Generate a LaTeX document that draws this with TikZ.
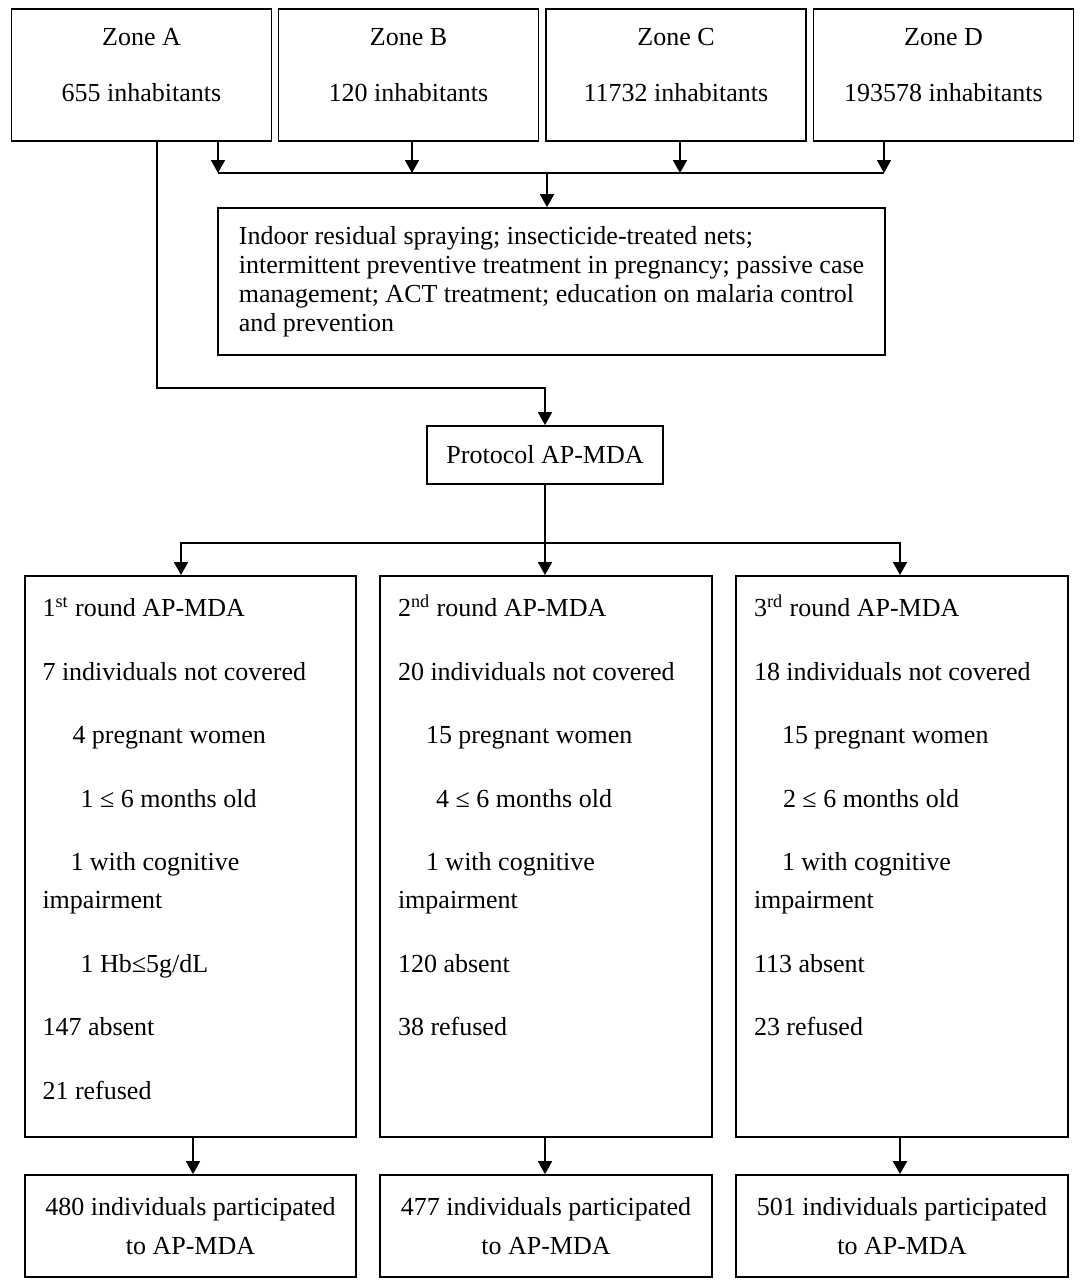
\documentclass[tikz,border=0pt]{standalone}
\usepackage{fontspec}
\setmainfont{Liberation Serif}
\usetikzlibrary{arrows.meta}
\newcommand{\roundsep}{\\[12.75pt]}
\newcommand{\boxfont}[1]{\fontsize{13}{#1}\selectfont}

\begin{document}
\begin{tikzpicture}[x=0.5pt,y=-0.5pt]
\tikzstyle{box}=[draw, line width=0.9pt, font=\boxfont{19},
  execute at begin node={\spaceskip=\fontdimen2\font\xspaceskip=0pt\relax}]
\tikzstyle{zone}=[box, anchor=north, text width=130pt, align=center, inner xsep=0pt, inner ysep=0pt, text height=18.3pt, text depth=47.7pt]
\tikzstyle{roundbox}=[box, anchor=north, text width=148pt, align=left, inner xsep=8.9pt, inner ysep=0pt, text height=20.3pt, text depth=260.2pt]
\tikzstyle{result}=[box, text width=165.8pt, inner xsep=0pt, align=center, minimum height=51pt, font=\boxfont{19.5}]
\tikzstyle{wire}=[line width=0.9pt]
\tikzstyle{arr}=[wire, -{Triangle[length=6.5pt,width=7pt]}]
\useasboundingbox (0,0) rectangle (1084,1284);

% zones
\node[zone] (zA) at (141.5,8) {Zone A\\[9pt]655 inhabitants};
\node[zone] (zB) at (408.5,8) {Zone B\\[9pt]120 inhabitants};
\node[zone] (zC) at (676,8) {Zone C\\[9pt]11732 inhabitants};
\node[zone] (zD) at (943.5,8) {Zone D\\[9pt]193578 inhabitants};

\node[box, align=left, minimum width=333.5pt, minimum height=73.5pt, font=\boxfont{14.5}] (ctrl) at (551.5,281.5)
  {Indoor residual spraying; insecticide-treated nets;\\
   intermittent preventive treatment in pregnancy; passive case\\
   management; ACT treatment; education on malaria control\\
   and prevention};

\node[box, minimum width=118pt, minimum height=29pt] (proto) at (545,455) {Protocol AP-MDA};

% rounds
\node[roundbox] (r1) at (190.5,575) {1\textsuperscript{st} round AP-MDA\roundsep
  7 individuals not covered\roundsep
  \hspace*{15pt}4 pregnant women\roundsep
  \hspace*{19pt}1 ≤ 6 months old\roundsep
  \hspace*{14pt}1 with cognitive\\
  impairment\roundsep
  \hspace*{19pt}1 Hb≤5g/dL\roundsep
  147 absent\roundsep
  21 refused};
\node[roundbox] (r2) at (546,575) {2\textsuperscript{nd} round AP-MDA\roundsep
  20 individuals not covered\roundsep
  \hspace*{14pt}15 pregnant women\roundsep
  \hspace*{19pt}4 ≤ 6 months old\roundsep
  \hspace*{14pt}1 with cognitive\\
  impairment\roundsep
  120 absent\roundsep
  38 refused};
\node[roundbox] (r3) at (902,575) {3\textsuperscript{rd} round AP-MDA\roundsep
  18 individuals not covered\roundsep
  \hspace*{14pt}15 pregnant women\roundsep
  \hspace*{14.5pt}2 ≤ 6 months old\roundsep
  \hspace*{14pt}1 with cognitive\\
  impairment\roundsep
  113 absent\roundsep
  23 refused};

\node[result] (p1) at (190.5,1226) {480 individuals participated\\to AP-MDA};
\node[result] (p2) at (546,1226) {477 individuals participated\\to AP-MDA};
\node[result] (p3) at (902,1226) {501 individuals participated\\to AP-MDA};

% connectors
\coordinate (join) at (547,173);
\coordinate (elbow) at (545,388);
\coordinate (fork) at (545,543);
\foreach \z/\dx in {zA/38.25pt, zB/1.75pt, zC/2pt, zD/-29.75pt}
  \draw[arr] ([xshift=\dx]\z.south) -- ([xshift=\dx]\z.south |- join);
\draw[wire] ([xshift=38.25pt]zA.south |- join) -- ([xshift=-29.75pt]zD.south |- join);
\draw[arr] (join) -- (join |- ctrl.north);
\draw[arr] ([xshift=7.75pt]zA.south) |- (elbow) -- (proto.north);
\draw[wire] (proto.south) -- (fork);
\draw[arr] (fork) -| ([xshift=-4.75pt]r1.north);
\draw[arr] (fork) -- (fork |- r2.north);
\draw[arr] (fork) -| ([xshift=-1pt]r3.north);
\foreach \i/\dx in {1/1.25pt, 2/-0.5pt, 3/-1pt}
  \draw[arr] ([xshift=\dx]r\i.south) -- ([xshift=\dx]p\i.north);
\end{tikzpicture}
\end{document}
